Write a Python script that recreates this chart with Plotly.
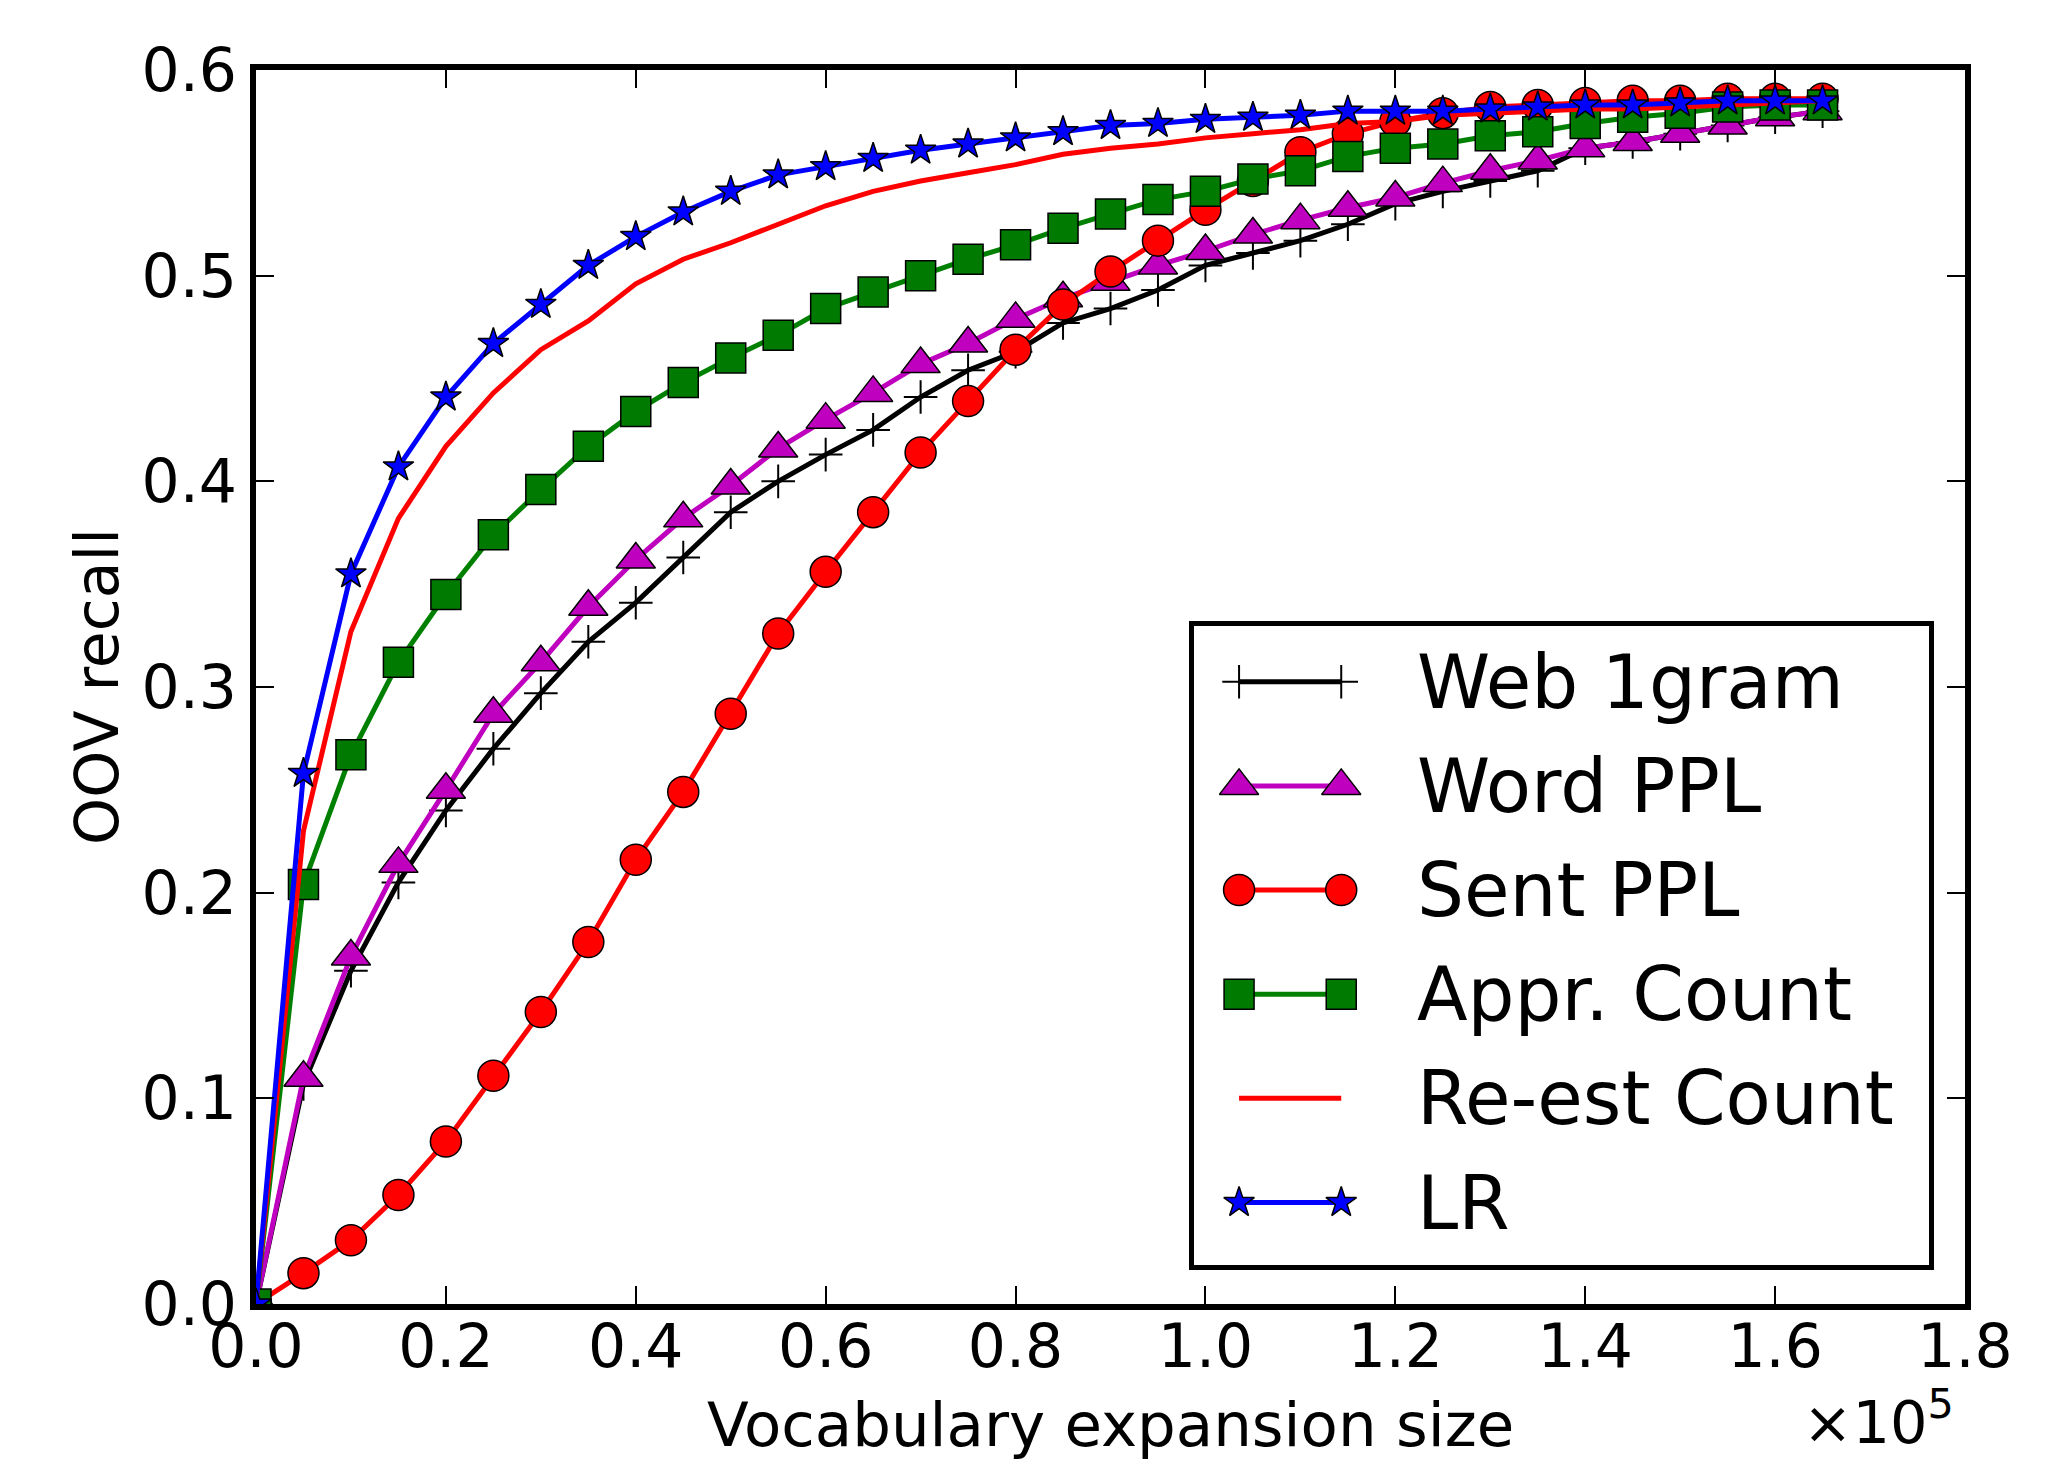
import plotly.graph_objects as go

# ---------------- data ----------------
vocab_size = [0, 5000, 10000, 15000, 20000, 25000, 30000, 35000, 40000, 45000,
              50000, 55000, 60000, 65000, 70000, 75000, 80000, 85000, 90000, 95000,
              100000, 105000, 110000, 115000, 120000, 125000, 130000, 135000, 140000,
              145000, 150000, 155000, 160000, 165000]

web_1gram = [0, 0.107, 0.162, 0.205, 0.240, 0.270, 0.297, 0.322, 0.341, 0.363,
             0.385, 0.400, 0.413, 0.425, 0.441, 0.454, 0.463, 0.477, 0.484, 0.493,
             0.505, 0.511, 0.517, 0.525, 0.535, 0.541, 0.546, 0.551, 0.562, 0.565,
             0.569, 0.573, 0.577, 0.580]

word_ppl = [0, 0.110, 0.169, 0.214, 0.250, 0.287, 0.312, 0.339, 0.362, 0.382,
            0.398, 0.416, 0.430, 0.443, 0.457, 0.467, 0.479, 0.489, 0.497, 0.505,
            0.512, 0.520, 0.527, 0.533, 0.538, 0.545, 0.551, 0.556, 0.562, 0.565,
            0.569, 0.573, 0.577, 0.580]

sent_ppl = [0, 0.015, 0.031, 0.053, 0.079, 0.111, 0.142, 0.176, 0.216, 0.249,
            0.287, 0.326, 0.356, 0.385, 0.414, 0.439, 0.464, 0.486, 0.502, 0.517,
            0.532, 0.546, 0.560, 0.569, 0.575, 0.579, 0.582, 0.583, 0.584, 0.585,
            0.585, 0.586, 0.586, 0.586]

appr_count = [0, 0.204, 0.267, 0.312, 0.345, 0.374, 0.396, 0.417, 0.434, 0.448,
              0.460, 0.471, 0.484, 0.492, 0.500, 0.508, 0.515, 0.523, 0.530, 0.537,
              0.541, 0.547, 0.551, 0.558, 0.562, 0.564, 0.568, 0.570, 0.574, 0.577,
              0.579, 0.582, 0.583, 0.583]

reest_count = [0, 0.230, 0.327, 0.382, 0.417, 0.443, 0.464, 0.478, 0.496, 0.508,
               0.516, 0.525, 0.534, 0.541, 0.546, 0.550, 0.554, 0.559, 0.562, 0.564,
               0.567, 0.569, 0.571, 0.574, 0.575, 0.578, 0.579, 0.580, 0.581, 0.581,
               0.582, 0.583, 0.584, 0.585]

lr = [0, 0.258, 0.355, 0.407, 0.441, 0.467, 0.486, 0.505, 0.519, 0.531,
      0.541, 0.549, 0.553, 0.557, 0.561, 0.564, 0.567, 0.570, 0.573, 0.574,
      0.576, 0.577, 0.578, 0.580, 0.580, 0.580, 0.581, 0.582, 0.583, 0.583,
      0.584, 0.585, 0.585, 0.585]

series_names = ["Web 1gram", "Word PPL", "Sent PPL", "Appr. Count", "Re-est Count", "LR"]

x_tick_vals = [0, 20000, 40000, 60000, 80000, 100000, 120000, 140000, 160000, 180000]
x_tick_text = ["0.0", "0.2", "0.4", "0.6", "0.8", "1.0", "1.2", "1.4", "1.6", "1.8"]
y_tick_vals = [0.0, 0.1, 0.2, 0.3, 0.4, 0.5, 0.6]
y_tick_text = ["0.0", "0.1", "0.2", "0.3", "0.4", "0.5", "0.6"]

x_title = "Vocabulary expansion size"
y_title = "OOV recall"
x_scale_text = "×10<sup>5</sup>"

# ---------------- styles ----------------
FONT = "DejaVu Sans"
W, H = 2061, 1460
L, R, T, B = 248, 104, 62, 164
plot_w = W - L - R
plot_h = H - T - B

LW = 5
styles = [
    dict(mode="lines+markers", line=dict(color="black", width=LW),
         marker=dict(symbol="cross-thin", size=24, color="black",
                     line=dict(color="black", width=2))),
    dict(mode="lines+markers", line=dict(color="#bf00bf", width=LW),
         marker=dict(symbol="triangle-up", size=34, color="#bf00bf",
                     line=dict(color="black", width=1.5))),
    dict(mode="lines+markers", line=dict(color="#ff0000", width=LW),
         marker=dict(symbol="circle", size=31, color="#ff0000",
                     line=dict(color="black", width=1.5))),
    dict(mode="lines+markers", line=dict(color="#008000", width=LW),
         marker=dict(symbol="square", size=30, color="#007a00",
                     line=dict(color="black", width=1.5))),
    dict(mode="lines", line=dict(color="#ff0000", width=LW)),
    dict(mode="lines+markers", line=dict(color="#0000ff", width=LW),
         marker=dict(symbol="star", size=23, color="#0000ff",
                     line=dict(color="black", width=1.5))),
]

all_series = [web_1gram, word_ppl, sent_ppl, appr_count, reest_count, lr]

fig = go.Figure()
for name, ys, st in zip(series_names, all_series, styles):
    fig.add_trace(go.Scatter(x=vocab_size, y=ys, name=name, showlegend=False,
                             xaxis="x", yaxis="y", **st))

# ---------------- custom legend (matplotlib style) ----------------
BOX_LW = 5
box_px = (1183, 615, 1923, 1259)  # line centres: left, top, right, bottom (page px)
leg_x_dom = [(box_px[0] + BOX_LW / 2 - L) / plot_w, (box_px[2] - BOX_LW / 2 - L) / plot_w]
leg_y_dom = [(H - B - box_px[3] + BOX_LW / 2) / plot_h, (H - B - box_px[1] - BOX_LW / 2) / plot_h]

first_row = 0.088
row_step = 0.163
sample_x = [0.062, 0.201]
text_x = 0.302
for i, (name, st) in enumerate(zip(series_names, styles)):
    yrow = 1 - (first_row + i * row_step)
    fig.add_trace(go.Scatter(x=sample_x, y=[yrow, yrow], showlegend=False,
                             xaxis="x2", yaxis="y2", hoverinfo="skip", **st))
    fig.add_annotation(x=text_x, y=yrow, xref="x2", yref="y2", text=name,
                       showarrow=False, xanchor="left", yanchor="middle",
                       font=dict(family=FONT, size=74, color="black"))

# axis titles and the offset text
fig.add_annotation(x=0.5, y=(H - B - 1417) / plot_h, xref="paper", yref="paper",
                   text=x_title, showarrow=False, xanchor="center", yanchor="middle",
                   font=dict(family=FONT, size=61, color="black"))
fig.add_annotation(x=(89 - L) / plot_w, y=0.5, xref="paper", yref="paper",
                   text=y_title, textangle=-90, showarrow=False,
                   xanchor="center", yanchor="middle",
                   font=dict(family=FONT, size=60, color="black"))
fig.add_annotation(x=(1948 - L) / plot_w, y=(H - B - 1410) / plot_h,
                   xref="paper", yref="paper", text=x_scale_text,
                   showarrow=False, xanchor="right", yanchor="middle",
                   font=dict(family=FONT, size=59, color="black"))

axis_common = dict(showline=True, linewidth=6, linecolor="black", mirror="allticks",
                   ticks="inside", ticklen=18, tickwidth=1.5, tickcolor="black",
                   showgrid=False, zeroline=False, automargin=False,
                   tickfont=dict(family=FONT, size=60, color="black"))

fig.update_layout(
    width=W, height=H,
    margin=dict(l=L, r=R, t=T, b=B, autoexpand=False),
    paper_bgcolor="white", plot_bgcolor="white",
    font=dict(family=FONT, color="black"),
    xaxis=dict(range=[0, 180000], tickvals=x_tick_vals, ticktext=x_tick_text,
               ticklabelstandoff=-15, domain=[0, 1], anchor="y", **axis_common),
    yaxis=dict(range=[0, 0.6], tickvals=y_tick_vals, ticktext=y_tick_text,
               ticklabelstandoff=1, domain=[0, 1], anchor="x", **axis_common),
    xaxis2=dict(domain=leg_x_dom, range=[0, 1], anchor="y2", showline=True,
                mirror=True, linewidth=BOX_LW, linecolor="black", showticklabels=False,
                ticks="", showgrid=False, zeroline=False, fixedrange=True),
    yaxis2=dict(domain=leg_y_dom, range=[0, 1], anchor="x2", showline=True,
                mirror=True, linewidth=BOX_LW, linecolor="black", showticklabels=False,
                ticks="", showgrid=False, zeroline=False, fixedrange=True),
)

fig.write_html("out.html")
